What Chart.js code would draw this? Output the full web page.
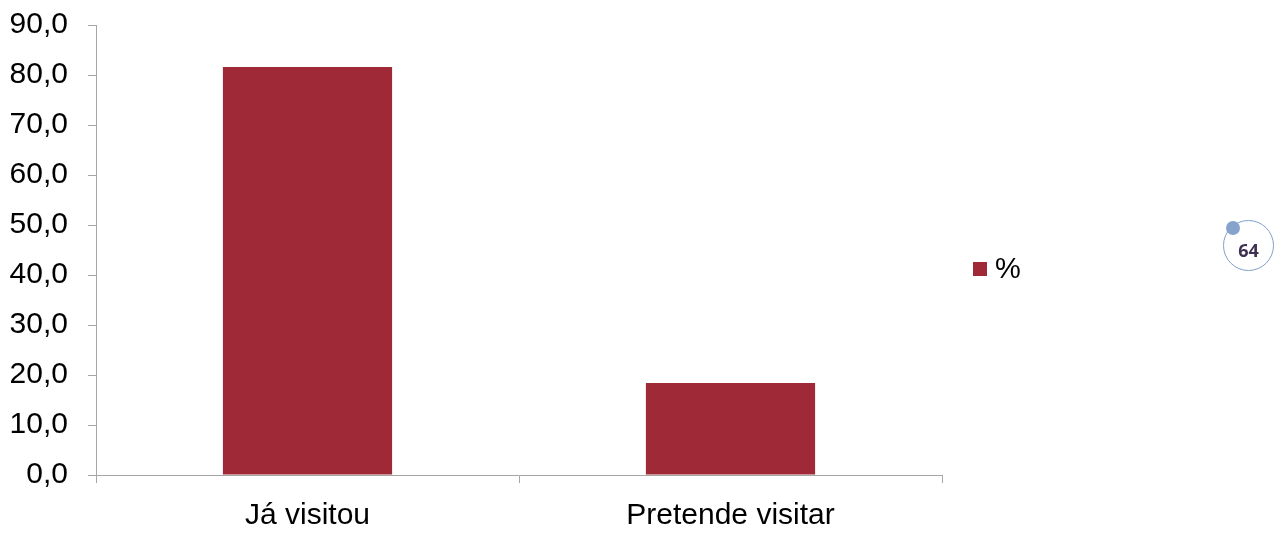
<!DOCTYPE html>
<html>
<head>
<meta charset="utf-8">
<script src="https://cdn.jsdelivr.net/npm/chart.js@4"></script>
<style>
    html, body { margin: 0; padding: 0; background: #fff; }
    #wrap { position: relative; width: 1283px; height: 534px; }
    #badge {
        position: absolute; left: 1223px; top: 220px;
        width: 51px; height: 51px; box-sizing: border-box;
        border: 1.5px solid #7f9fca; border-radius: 50%;
        font: bold 18px "Open Sans", sans-serif; color: #3f3151;
        display: flex; align-items: center; justify-content: center;
        padding-top: 8px;
    }
    #badge .dot {
        position: absolute; left: 2px; top: 0px;
        width: 14px; height: 14px; border-radius: 50%; background: #86a3cc;
    }
</style>
</head>
<body>
<div id="wrap">
    <canvas id="visitChart" width="1283" height="534"></canvas>
    <div id="badge"><span class="dot"></span>64</div>
</div>
<script>
const categories = ["Já visitou", "Pretende visitar"];
const percentValues = [81.6, 18.4];
const seriesName = "%";
const yTicks = [0, 10, 20, 30, 40, 50, 60, 70, 80, 90];

const BAR_COLOR = "#9f2937";
const AXIS_COLOR = "#a6a6a6";
const FONT = "'Liberation Sans', Arial, sans-serif";

// legend drawn to the right of the plot
const sideLegend = {
    id: "sideLegend",
    afterDraw(chart) {
        let ctx = chart.ctx;
        let ds = chart.data.datasets[0];
        ctx.save();
        ctx.fillStyle = ds.backgroundColor;
        ctx.fillRect(973, 262, 14, 14);
        ctx.fillStyle = "#000";
        ctx.font = "29px " + FONT;
        ctx.textBaseline = "middle";
        ctx.fillText(ds.label, 995, 270);
        ctx.restore();
    }
};

new Chart(document.getElementById("visitChart"), {
    type: "bar",
    data: {
        labels: categories,
        datasets: [{
            label: seriesName,
            data: percentValues,
            backgroundColor: BAR_COLOR,
            barPercentage: 0.4,
            categoryPercentage: 1.0
        }]
    },
    options: {
        responsive: false,
        animation: false,
        layout: { padding: { top: 25, right: 341, left: 0, bottom: 0 } },
        plugins: {
            legend: { display: false },
            tooltip: { enabled: false }
        },
        scales: {
            x: {
                grid: {
                    offset: true,
                    drawOnChartArea: false,
                    drawTicks: true,
                    tickLength: 8,
                    color: AXIS_COLOR
                },
                border: { display: true, color: AXIS_COLOR, width: 1 },
                ticks: {
                    color: "#000",
                    font: { family: FONT, size: 30 },
                    padding: 15
                },
                afterFit(scale) {
                    scale.height = 59;
                    scale.paddingLeft = 0;
                    scale.paddingRight = 0;
                }
            },
            y: {
                min: 0,
                max: 90,
                afterBuildTicks(scale) {
                    scale.ticks = yTicks.map(v => ({ value: v }));
                },
                grid: {
                    drawOnChartArea: false,
                    drawTicks: true,
                    tickLength: 8,
                    color: AXIS_COLOR
                },
                border: { display: true, color: AXIS_COLOR, width: 1 },
                ticks: {
                    color: "#000",
                    font: { family: FONT, size: 30 },
                    padding: 20,
                    callback: v => v.toFixed(1).replace(".", ",")
                },
                afterFit(scale) {
                    scale.width = 96;
                    scale.paddingTop = 0;
                    scale.paddingBottom = 0;
                }
            }
        }
    },
    plugins: [sideLegend]
});
</script>
</body>
</html>
